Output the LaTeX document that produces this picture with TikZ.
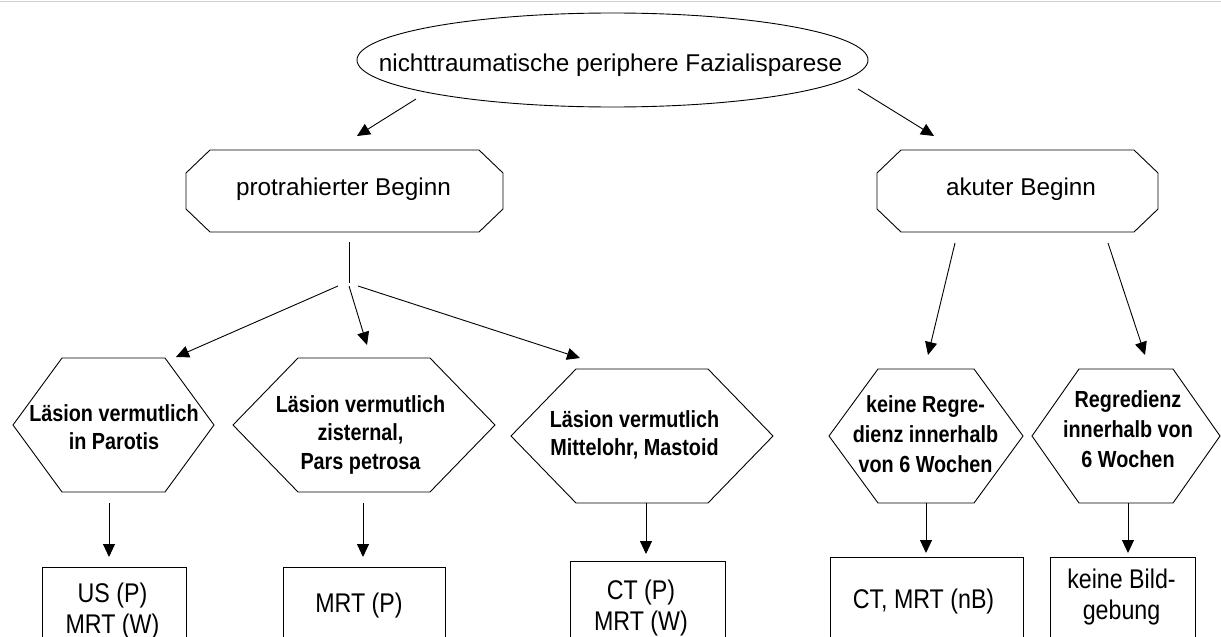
\documentclass[tikz,border=0pt]{standalone}
\usepackage{fontspec}
\setmainfont{Liberation Sans}
\newfontfamily\hexfont[FakeStretch=0.85]{Liberation Sans Bold}
\newfontfamily\boxfont[FakeStretch=0.86]{Liberation Sans}
\usetikzlibrary{arrows.meta,shapes.geometric,calc}
\tikzset{
  shp/.style={draw=black, line width=0.9pt},
  frame/.style={inner sep=0pt, outer sep=0pt, draw=none},
  arr/.style={draw=black, line width=0.9pt, -{Triangle[length=13pt,width=12pt]}},
  ln/.style={draw=black, line width=0.9pt},
  reg/.style={inner sep=0pt, anchor=base, font={\fontsize{24.3}{29}\selectfont}},
  hext/.style={inner sep=0pt, align=center, anchor=north, font={\hexfont\fontsize{23.3}{28.5}\selectfont}},
  hextw/.style={inner sep=0pt, align=center, anchor=north, font={\hexfont\fontsize{23.3}{30}\selectfont}},
  boxt/.style={inner sep=0pt, align=center, anchor=north, font={\boxfont\fontsize{27}{31}\selectfont}},
  boxs/.style={inner sep=0pt, anchor=base, font={\boxfont\fontsize{27}{31}\selectfont}},
}
\newcommand\octpath[3]{%
  \draw[shp] ($(#1.north west)+(#2,0)$) -- ($(#1.north east)+(-#2,0)$) -- ($(#1.north east)+(0,#3)$) -- ($(#1.south east)+(0,-#3)$) -- ($(#1.south east)+(-#2,0)$) -- ($(#1.south west)+(#2,0)$) -- ($(#1.south west)+(0,-#3)$) -- ($(#1.north west)+(0,#3)$) -- cycle;}
\newcommand\hexpath[2]{%
  \draw[shp] ($(#1.north west)+(#2,0)$) -- ($(#1.north east)+(-#2,0)$) -- (#1.east) -- ($(#1.south east)+(-#2,0)$) -- ($(#1.south west)+(#2,0)$) -- (#1.west) -- cycle;}
\begin{document}
\begin{tikzpicture}[x=1pt,y=-1pt]
\useasboundingbox (0,0) rectangle (1221,637);
\clip (0,0) rectangle (1221,637);
\fill[white] (0,0) rectangle (1221,637);
\draw[draw=black!18, line width=1pt] (0,1) -- (1221,1);

% top ellipse
\node[shp, ellipse, minimum width=511pt, minimum height=94pt, inner sep=0pt] (top) at (612.5,60) {};
\node[reg] (topt) at (610.5,71) {nichttraumatische periphere Fazialisparese};

% octagons
\node[frame, minimum width=317pt, minimum height=82pt] (pb) at (344.5,191) {};
\octpath{pb}{24}{23}
\node[reg] (pbt) at (343.5,195) {protrahierter Beginn};
\node[frame, minimum width=281pt, minimum height=82pt] (ab) at (1017.5,191) {};
\octpath{ab}{24}{23}
\node[reg] (abt) at (1021,195) {akuter Beginn};

% hexagons
\node[frame, minimum width=201pt, minimum height=134pt] (h1) at (113.5,425) {};
\hexpath{h1}{49}
\node[hext] (h1t) at (114,404.2) {Läsion vermutlich\\in Parotis};
\node[frame, minimum width=262pt, minimum height=134pt] (h2) at (364,425) {};
\hexpath{h2}{65}
\node[hext] (h2t) at (360.5,395.2) {Läsion vermutlich\\zisternal,\\Pars petrosa};
\node[frame, minimum width=262pt, minimum height=134pt] (h3) at (642,436) {};
\hexpath{h3}{65}
\node[hext] (h3t) at (634.5,410.2) {Läsion vermutlich\\Mittelohr, Mastoid};
\node[frame, minimum width=194pt, minimum height=134pt] (h4) at (926,436) {};
\hexpath{h4}{49}
\node[hextw] (h4t) at (925.5,395.2) {keine Regre-\\dienz innerhalb\\von 6 Wochen};
\node[frame, minimum width=188pt, minimum height=134pt] (h5) at (1126,436) {};
\hexpath{h5}{47}
\node[hextw] (h5t) at (1128,390.2) {Regredienz\\innerhalb von\\6 Wochen};

% boxes
\node[shp, frame, draw=black, minimum width=144pt, minimum height=93pt] (b1) at (114,613.5) {};
\node[boxt] (b1t) at (112.5,582.3) {US (P)\\MRT (W)};
\node[shp, frame, draw=black, minimum width=162pt, minimum height=93pt] (b2) at (364,613.5) {};
\node[boxs] (b2t) at (359,612) {MRT (P)};
\node[shp, frame, draw=black, minimum width=155pt, minimum height=99pt] (b3) at (647.5,610.5) {};
\node[boxt] (b3t) at (641,579.3) {CT (P)\\MRT (W)};
\node[shp, frame, draw=black, minimum width=193pt, minimum height=103pt] (b4) at (926.5,608.5) {};
\node[boxs] (b4t) at (923.5,608.5) {CT, MRT (nB)};
\node[shp, frame, draw=black, minimum width=145pt, minimum height=103pt] (b5) at (1122.5,608.5) {};
\node[boxt] (b5t) at (1121.5,568.5) {keine Bild-\\gebung};

% connector end points
\coordinate (e1s) at (416,99);   \coordinate (e1e) at (357,136);
\coordinate (e2s) at (858,89);   \coordinate (e2e) at (934,136);
\coordinate (pbs) at (349,242);  \coordinate (fan) at (349,283);
\coordinate (f1s) at (338,286);  \coordinate (f1e) at (176,357);
\coordinate (f2s) at (349,286);  \coordinate (f2e) at (367,345);
\coordinate (f3s) at (358,286);  \coordinate (f3e) at (580,358);
\coordinate (a1s) at (955,243);  \coordinate (a1e) at (928,355);
\coordinate (a2s) at (1108,243); \coordinate (a2e) at (1145,355);
\coordinate (v1s) at (109,503);  \coordinate (v1e) at (109,557);
\coordinate (v2s) at (363,503);  \coordinate (v2e) at (363,557);
\coordinate (v3s) at (646,503);  \coordinate (v3e) at (646,554);
\coordinate (v4s) at (926,503);  \coordinate (v4e) at (926,553);
\coordinate (v5s) at (1128,503); \coordinate (v5e) at (1128,553);

\draw[arr] (e1s) -- (e1e);
\draw[arr] (e2s) -- (e2e);
\draw[ln] (pbs) -- (fan);
\draw[arr] (f1s) -- (f1e);
\draw[arr] (f2s) -- (f2e);
\draw[arr] (f3s) -- (f3e);
\draw[arr] (a1s) -- (a1e);
\draw[arr] (a2s) -- (a2e);
\draw[arr] (v1s) -- (v1e);
\draw[arr] (v2s) -- (v2e);
\draw[arr] (v3s) -- (v3e);
\draw[arr] (v4s) -- (v4e);
\draw[arr] (v5s) -- (v5e);
\end{tikzpicture}
\end{document}
